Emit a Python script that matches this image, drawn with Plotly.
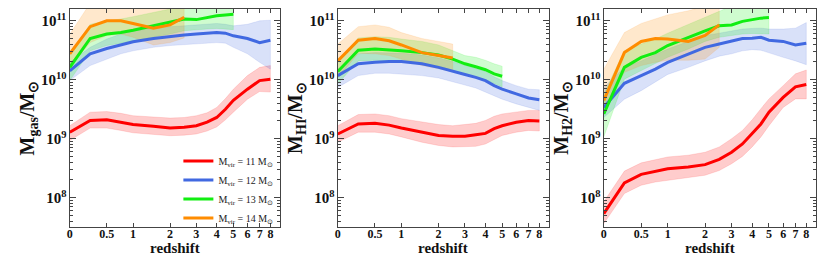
import plotly.graph_objects as go

# ---------------- data (log10 of mass in solar masses) ----------------
z_full = [0, 0.25, 0.5, 0.75, 1, 1.5, 2, 2.5, 3, 3.5, 4, 4.5, 5, 6, 7, 8]
z_13 = [0, 0.25, 0.5, 0.75, 1, 1.5, 2, 2.5, 3, 3.5, 4, 4.5, 5]
z_14 = [0, 0.25, 0.5, 0.75, 1, 1.5, 2, 2.5]

tick_z = [0, 0.5, 1, 2, 3, 4, 5, 6, 7, 8]
tick_z_text = ["0", "0.5", "1", "2", "3", "4", "5", "6", "7", "8"]

series_names = ["M<sub>vir</sub> = 11 M<sub>⊙</sub>", "M<sub>vir</sub> = 12 M<sub>⊙</sub>",
                "M<sub>vir</sub> = 13 M<sub>⊙</sub>", "M<sub>vir</sub> = 14 M<sub>⊙</sub>"]
line_colors = ["#ff0000", "#4169e1", "#11ee11", "#ff8c00"]
fill_colors = ["rgba(255,0,0,0.2)", "rgba(65,105,225,0.2)", "rgba(17,238,17,0.2)", "rgba(255,140,0,0.2)"]

# Panel 1: gas mass
gas_11 = [9.11, 9.31, 9.32, 9.28, 9.24, 9.21, 9.18, 9.195, 9.22, 9.28, 9.36, 9.5, 9.65, 9.84, 9.985, 10.01]
gas_11_hi = [9.22, 9.45, 9.46, 9.43, 9.39, 9.37, 9.35, 9.36, 9.39, 9.44, 9.53, 9.68, 9.84, 10.07, 10.21, 10.24]
gas_11_lo = [8.97, 9.18, 9.18, 9.14, 9.10, 9.07, 9.05, 9.06, 9.08, 9.13, 9.2, 9.32, 9.45, 9.67, 9.8, 9.79]
gas_12 = [10.15, 10.44, 10.53, 10.59, 10.645, 10.70, 10.735, 10.76, 10.775, 10.79, 10.80, 10.79, 10.745, 10.70, 10.63, 10.67]
gas_12_hi = [10.295, 10.55, 10.69, 10.775, 10.83, 10.875, 10.90, 10.915, 10.93, 10.94, 10.955, 10.94, 10.915, 10.94, 11.0, 11.01]
gas_12_lo = [9.985, 10.24, 10.35, 10.44, 10.49, 10.55, 10.58, 10.59, 10.605, 10.62, 10.63, 10.62, 10.55, 10.44, 10.295, 10.18]
gas_13 = [10.21, 10.70, 10.775, 10.80, 10.84, 10.915, 10.97, 11.03, 11.02, 11.06, 11.085, 11.10, 11.11]
gas_13_hi = [10.44, 10.94, 11.0, 11.03, 11.07, 11.14, 11.2, 11.3, 11.3, 11.3, 11.3, 11.3, 11.3]
gas_13_lo = [9.985, 10.49, 10.58, 10.62, 10.66, 10.72, 10.775, 10.83, 10.84, 10.86, 10.87, 10.865, 10.85]
gas_14 = [10.44, 10.90, 11.0, 11.0, 10.955, 10.876, 10.93, 11.06]
gas_14_hi = [10.77, 11.3, 11.4, 11.4, 11.4, 11.35, 11.4, 11.45]
gas_14_lo = [10.21, 10.63, 10.75, 10.775, 10.72, 10.59, 10.63, 10.71]

# Panel 2: HI mass
hi_11 = [9.08, 9.25, 9.26, 9.23, 9.18, 9.11, 9.055, 9.04, 9.04, 9.065, 9.09, 9.17, 9.22, 9.28, 9.31, 9.30]
hi_11_hi = [9.22, 9.41, 9.42, 9.39, 9.34, 9.28, 9.24, 9.22, 9.235, 9.26, 9.31, 9.38, 9.42, 9.45, 9.48, 9.48]
hi_11_lo = [8.94, 9.11, 9.11, 9.08, 9.03, 8.94, 8.885, 8.86, 8.86, 8.87, 8.91, 8.98, 9.055, 9.11, 9.14, 9.13]
hi_12 = [10.07, 10.27, 10.295, 10.31, 10.31, 10.27, 10.21, 10.14, 10.09, 10.04, 9.985, 9.90, 9.84, 9.76, 9.69, 9.66]
hi_12_hi = [10.18, 10.44, 10.46, 10.46, 10.45, 10.42, 10.37, 10.31, 10.24, 10.19, 10.14, 10.05, 9.985, 9.90, 9.84, 9.83]
hi_12_lo = [9.87, 10.07, 10.11, 10.11, 10.10, 10.07, 10.03, 9.97, 9.91, 9.86, 9.80, 9.73, 9.67, 9.59, 9.53, 9.48]
hi_13 = [10.14, 10.50, 10.52, 10.51, 10.49, 10.46, 10.42, 10.35, 10.27, 10.22, 10.17, 10.10, 10.06]
hi_13_hi = [10.295, 10.71, 10.73, 10.72, 10.69, 10.65, 10.59, 10.50, 10.41, 10.38, 10.33, 10.27, 10.23]
hi_13_lo = [9.93, 10.32, 10.33, 10.32, 10.31, 10.28, 10.23, 10.155, 10.09, 10.04, 10.0, 9.94, 9.88]
hi_14 = [10.32, 10.67, 10.70, 10.66, 10.59, 10.46, 10.41, 10.37]
hi_14_hi = [10.605, 10.90, 10.93, 10.89, 10.80, 10.70, 10.65, 10.605]
hi_14_lo = [10.03, 10.45, 10.44, 10.41, 10.35, 10.24, 10.18, 10.14]

# Panel 3: H2 mass
h2_11 = [7.73, 8.25, 8.395, 8.45, 8.49, 8.52, 8.56, 8.65, 8.77, 8.91, 9.08, 9.25, 9.45, 9.70, 9.88, 9.92]
h2_11_hi = [7.93, 8.45, 8.59, 8.64, 8.69, 8.72, 8.77, 8.86, 9.0, 9.14, 9.32, 9.51, 9.675, 9.90, 10.10, 10.165]
h2_11_lo = [7.56, 8.07, 8.21, 8.265, 8.30, 8.34, 8.38, 8.46, 8.575, 8.70, 8.86, 9.03, 9.22, 9.53, 9.675, 9.675]
h2_12 = [9.53, 9.94, 10.07, 10.18, 10.295, 10.435, 10.55, 10.605, 10.66, 10.70, 10.705, 10.72, 10.67, 10.65, 10.59, 10.62]
h2_12_hi = [9.87, 10.21, 10.32, 10.42, 10.52, 10.65, 10.75, 10.79, 10.83, 10.86, 10.87, 10.875, 10.86, 10.86, 10.875, 10.97]
h2_12_lo = [9.36, 9.67, 9.815, 9.96, 10.09, 10.21, 10.32, 10.40, 10.44, 10.49, 10.51, 10.50, 10.45, 10.38, 10.32, 10.255]
h2_13 = [9.42, 10.21, 10.38, 10.46, 10.58, 10.72, 10.83, 10.915, 10.93, 10.99, 11.02, 11.045, 11.055]
h2_13_hi = [9.76, 10.49, 10.605, 10.69, 10.79, 10.94, 11.07, 11.17, 11.25, 11.25, 11.25, 11.25, 11.25]
h2_13_lo = [9.03, 10.01, 10.155, 10.27, 10.38, 10.52, 10.65, 10.72, 10.745, 10.775, 10.785, 10.785, 10.775]
h2_14 = [9.65, 10.46, 10.65, 10.70, 10.69, 10.65, 10.75, 10.93]
h2_14_hi = [10.18, 10.80, 10.955, 11.03, 11.10, 11.17, 11.25, 11.3]
h2_14_lo = [9.48, 10.125, 10.24, 10.295, 10.33, 10.33, 10.35, 10.55]

x_title = "redshift"

panels = [
    ("M<sub>gas</sub>/M<sub>⊙</sub>", [(z_full, gas_11, gas_11_lo, gas_11_hi), (z_full, gas_12, gas_12_lo, gas_12_hi),
                                       (z_13, gas_13, gas_13_lo, gas_13_hi), (z_14, gas_14, gas_14_lo, gas_14_hi)]),
    ("M<sub>HI</sub>/M<sub>⊙</sub>", [(z_full, hi_11, hi_11_lo, hi_11_hi), (z_full, hi_12, hi_12_lo, hi_12_hi),
                                      (z_13, hi_13, hi_13_lo, hi_13_hi), (z_14, hi_14, hi_14_lo, hi_14_hi)]),
    ("M<sub>H2</sub>/M<sub>⊙</sub>", [(z_full, h2_11, h2_11_lo, h2_11_hi), (z_full, h2_12, h2_12_lo, h2_12_hi),
                                      (z_13, h2_13, h2_13_lo, h2_13_hi), (z_14, h2_14, h2_14_lo, h2_14_hi)]),
]

# page body has an 8px margin: figure is drawn at window offset (8, 8)
OFF = 8
FW, FH = 830 - 2 * OFF, 264 - 2 * OFF


def px(xw):
    return (xw - OFF) / FW


def py(yw):
    return 1 - (yw - OFF) / FH


x_domains = [[px(67), px(278)], [px(336), px(548)], [px(603), px(816)]]
y_domain = [py(227), py(8)]

FONT = "Liberation Serif"
AX = "#444444"

fig = go.Figure()

for p, (ytitle, series) in enumerate(panels):
    xa = "x" if p == 0 else f"x{p+1}"
    ya = "y" if p == 0 else f"y{p+1}"
    for s, (zz, mid, lo, hi) in enumerate(series):
        xs = [1 + v for v in zz]
        fig.add_trace(go.Scatter(
            x=xs + xs[::-1], y=[10 ** v for v in hi] + [10 ** v for v in lo[::-1]],
            fill="toself", fillcolor=fill_colors[s], line=dict(width=0.6, color=fill_colors[s]),
            mode="lines", hoverinfo="skip", showlegend=False, xaxis=xa, yaxis=ya))
    for s, (zz, mid, lo, hi) in enumerate(series):
        xs = [1 + v for v in zz]
        fig.add_trace(go.Scatter(
            x=xs, y=[10 ** v for v in mid], mode="lines",
            line=dict(color=line_colors[s], width=3),
            name=series_names[s], showlegend=(p == 0), xaxis=xa, yaxis=ya))

    axis_common = dict(showline=True, mirror="allticks", linecolor=AX, linewidth=1,
                       ticks="inside", tickcolor=AX, showgrid=False, zeroline=False,
                       tickfont=dict(family=FONT, size=12, color="#111", weight="bold"))
    fig.update_layout(**{
        ("xaxis" if p == 0 else f"xaxis{p+1}"): dict(
            axis_common, type="log", range=[0, 1.0], domain=x_domains[p], anchor=ya,
            tickmode="array", tickvals=[1 + v for v in tick_z], ticktext=tick_z_text, ticklen=4,
            ticklabelstandoff=-5),
        ("yaxis" if p == 0 else f"yaxis{p+1}"): dict(
            axis_common, type="log", range=[7.5, 11.2], domain=y_domain, anchor=xa,
            dtick=1, exponentformat="power", ticklen=6,
            minor=dict(ticks="inside", ticklen=3, tickcolor=AX, showgrid=False),
            title=dict(text=ytitle, font=dict(family=FONT, size=20, color="#111", weight="bold"), standoff=0)),
    })
    # x-axis title placed as an annotation below the tick labels
    fig.add_annotation(text=x_title, xref="paper", yref="paper",
                       x=(x_domains[p][0] + x_domains[p][1]) / 2, y=py(247.5),
                       xanchor="center", yanchor="middle", showarrow=False,
                       font=dict(family=FONT, size=15, color="#111", weight="bold"))

fig.update_layout(
    width=FW, height=FH, margin=dict(l=0, r=0, t=0, b=0),
    paper_bgcolor="white", plot_bgcolor="white",
    legend=dict(x=px(176), y=py(146), xanchor="left", yanchor="top",
                bgcolor="rgba(0,0,0,0)", font=dict(family=FONT, size=10, color="#222"),
                itemwidth=30, tracegroupgap=0),
    showlegend=True,
)

fig.write_html("out.html")
